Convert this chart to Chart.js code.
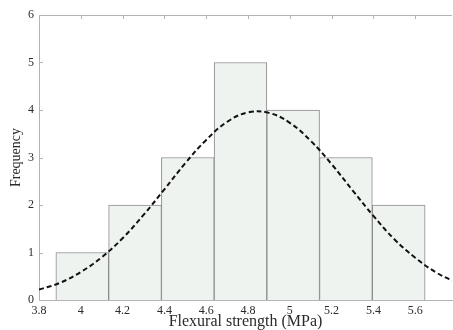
<!DOCTYPE html>
<html>
<head>
<meta charset="utf-8">
<script src="https://cdn.jsdelivr.net/npm/chart.js@4/dist/chart.umd.min.js"></script>
<style>
html,body{margin:0;padding:0;background:#fff;}
#wrap{width:453px;height:330px;}
</style>
</head>
<body>
<div id="wrap"><canvas id="c" width="453" height="330"></canvas></div>
<script>
// Histogram bin edges (MPa) and frequencies
const binEdges = [3.881, 4.133, 4.386, 4.638, 4.890, 5.142, 5.395, 5.647];
const frequencies = [1, 2, 3, 5, 4, 3, 2];
// Fitted normal curve
const curveX = [3.8, 3.9, 4.0, 4.1, 4.2, 4.3, 4.4, 4.5, 4.6, 4.7, 4.8, 4.9, 5.0, 5.1, 5.2, 5.3, 5.4, 5.5, 5.6, 5.7, 5.8];
const curveY = [0.22, 0.36, 0.59, 0.90, 1.30, 1.79, 2.33, 2.88, 3.37, 3.75, 3.95, 3.94, 3.73, 3.35, 2.86, 2.31, 1.77, 1.28, 0.89, 0.58, 0.36];
// Axis ticks
const xTicks = [3.8, 4.0, 4.2, 4.4, 4.6, 4.8, 5.0, 5.2, 5.4, 5.6];
const yTicks = [0, 1, 2, 3, 4, 5, 6];

const binCenters = frequencies.map((f, i) => (binEdges[i] + binEdges[i + 1]) / 2);
const barData = frequencies.map((f, i) => ({x: binCenters[i], y: f}));
const lineData = curveX.map((x, i) => ({x: x, y: curveY[i]}));

const axisColor = '#b3b3b3';
const textColor = '#2a2a2a';
const serif = "'Liberation Serif', 'DejaVu Serif', serif";
const xMin = 3.8, xMax = 5.776;

const innerTicks = {
  id: 'innerTicks',
  afterDraw(chart) {
    const ctx = chart.ctx, a = chart.chartArea;
    const xs = chart.scales.x, ys = chart.scales.y;
    ctx.save();
    ctx.strokeStyle = axisColor;
    ctx.lineWidth = 1;
    ctx.beginPath();
    ctx.moveTo(a.left, a.top + 0.5);
    ctx.lineTo(a.right, a.top + 0.5);
    yTicks.forEach(v => {
      const p = Math.round(ys.getPixelForValue(v)) + 0.5;
      ctx.moveTo(a.left, p);
      ctx.lineTo(a.left + 4, p);
    });
    xTicks.forEach(v => {
      const p = Math.round(xs.getPixelForValue(v)) + 0.5;
      ctx.moveTo(p, a.top);
      ctx.lineTo(p, a.top + 4);
    });
    ctx.stroke();
    ctx.restore();
  }
};

new Chart(document.getElementById('c'), {
  type: 'bar',
  data: {
    datasets: [
      {
        type: 'line',
        data: lineData,
        borderColor: '#111',
        borderWidth: 2,
        borderDash: [5, 3],
        pointRadius: 0,
        tension: 0.4,
        fill: false,
        order: 0
      },
      {
        type: 'bar',
        data: barData,
        backgroundColor: '#eef3f0',
        borderColor: '#8c8c8c',
        borderWidth: 1,
        barThickness: 'flex',
        barPercentage: 1,
        categoryPercentage: 1,
        order: 1
      }
    ]
  },
  options: {
    responsive: false,
    animation: false,
    layout: {padding: {top: 15, right: 1, left: 0, bottom: 0}},
    plugins: {legend: {display: false}, tooltip: {enabled: false}},
    scales: {
      x: {
        type: 'linear',
        offset: false,
        min: xMin,
        max: xMax,
        grid: {display: false, drawTicks: false},
        border: {display: true, color: axisColor},
        ticks: {
          color: textColor,
          font: {family: serif, size: 12},
          padding: 4,
          maxRotation: 0,
          autoSkip: false,
          callback: v => String(Number(v.toFixed(1)))
        },
        afterBuildTicks: s => { s.ticks = xTicks.map(v => ({value: v})); },
        afterFit: s => { s.height = 30; },
        title: {display: true, text: 'Flexural strength (MPa)', color: textColor, font: {family: serif, size: 16}, padding: {top: 0, bottom: -1}}
      },
      y: {
        min: 0,
        max: 6,
        grid: {display: false, drawTicks: false},
        border: {display: true, color: axisColor},
        ticks: {
          color: textColor,
          font: {family: serif, size: 12},
          padding: 5,
          stepSize: 1
        },
        afterBuildTicks: s => { s.ticks = yTicks.map(v => ({value: v})); },
        afterFit: s => { s.width = 39; },
        title: {display: true, text: 'Frequency', color: textColor, font: {family: serif, size: 14}, padding: {top: 8, bottom: 0}}
      }
    }
  },
  plugins: [innerTicks]
});
</script>
</body>
</html>
